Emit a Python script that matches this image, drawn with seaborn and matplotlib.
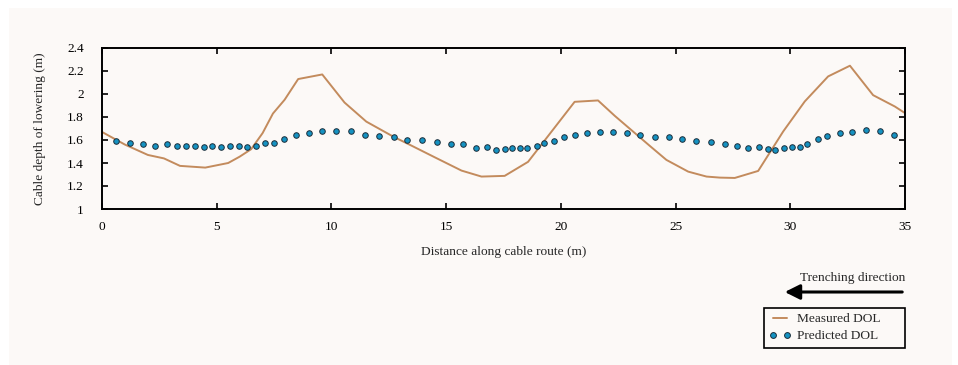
import matplotlib
matplotlib.use("Agg")
import matplotlib.pyplot as plt
import seaborn as sns
import pandas as pd
from matplotlib.patches import Rectangle, FancyArrowPatch
from matplotlib.lines import Line2D

# ---- data ----
measured_x = [0, 1, 2, 2.7, 3.4, 4.5, 5, 5.5, 6, 6.5, 7, 7.45, 7.96, 8.55, 9.6,
              10.57, 11.52, 12.69, 13.5, 14.5, 15.67, 16.54, 17.55, 18.57, 20.6,
              21.62, 22.35, 23.87, 24.6, 25.55, 26.35, 26.93, 27.58, 28.6, 29.69,
              30.63, 31.65, 32.6, 33.61, 34.56, 35]
measured_y = [1.67, 1.56, 1.47, 1.44, 1.375, 1.36, 1.38, 1.40, 1.455, 1.52, 1.66, 1.83,
              1.95, 2.13, 2.17, 1.926, 1.76, 1.63, 1.55, 1.45, 1.334, 1.282, 1.288,
              1.41, 1.932, 1.944, 1.81, 1.55, 1.427, 1.325, 1.282, 1.273, 1.27, 1.331,
              1.674, 1.935, 2.153, 2.246, 1.99, 1.891, 1.834]

predicted_x = [0.61, 1.24, 1.79, 2.33, 2.83, 3.29, 3.68, 4.07, 4.46, 4.81, 5.19, 5.58,
               5.96, 6.34, 6.70, 7.09, 7.51, 7.94, 8.44, 9.01, 9.59, 10.19, 10.84,
               11.48, 12.06, 12.72, 13.30, 13.95, 14.60, 15.23, 15.74, 16.29, 16.76,
               17.19, 17.55, 17.89, 18.21, 18.54, 18.94, 19.27, 19.69, 20.14, 20.61,
               21.12, 21.70, 22.28, 22.89, 23.44, 24.09, 24.70, 25.26, 25.91, 26.53,
               27.15, 27.66, 28.16, 28.63, 29.03, 29.35, 29.72, 30.08, 30.41, 30.75,
               31.19, 31.62, 32.16, 32.67, 33.29, 33.90, 34.51]
predicted_y = [1.587, 1.572, 1.566, 1.552, 1.561, 1.549, 1.552, 1.552, 1.540, 1.552,
               1.540, 1.546, 1.546, 1.540, 1.546, 1.572, 1.572, 1.607, 1.645, 1.665,
               1.680, 1.680, 1.674, 1.645, 1.634, 1.625, 1.601, 1.601, 1.581, 1.561,
               1.561, 1.529, 1.540, 1.514, 1.523, 1.529, 1.529, 1.529, 1.549, 1.572,
               1.587, 1.625, 1.645, 1.659, 1.671, 1.671, 1.659, 1.645, 1.625, 1.625,
               1.607, 1.593, 1.581, 1.566, 1.549, 1.529, 1.535, 1.523, 1.514, 1.529,
               1.535, 1.540, 1.566, 1.613, 1.639, 1.665, 1.671, 1.685, 1.680, 1.645]

x_ticks = [0, 5, 10, 15, 20, 25, 30, 35]
y_ticks = [1.0, 1.2, 1.4, 1.6, 1.8, 2.0, 2.2, 2.4]
y_tick_labels = ["1", "1.2", "1.4", "1.6", "1.8", "2", "2.2", "2.4"]

# ---- style ----
sns.set_theme(style="ticks")
plt.rcParams["font.family"] = ["Liberation Serif", "DejaVu Serif"]

BG = "#fcf9f7"
LINE_C = "#c38b5d"
DOT_C = "#1592c2"
DOT_E = "#1c2e3a"
FS = 9.6

W, H = 958, 365
fig = plt.figure(figsize=(W / 100, H / 100), dpi=100, facecolor="white")
fig.patches.append(Rectangle((9 / W, 0), (952 - 9) / W, 1 - 8 / H,
                             transform=fig.transFigure, facecolor=BG,
                             edgecolor="none", zorder=-10))

ax = fig.add_axes([102 / W, 1 - 209 / H, (905 - 102) / W, (209 - 48) / H])
ax.set_facecolor(BG)

df_m = pd.DataFrame({"x": measured_x, "y": measured_y})
df_p = pd.DataFrame({"x": predicted_x, "y": predicted_y})

sns.lineplot(data=df_m, x="x", y="y", ax=ax, color=LINE_C, linewidth=1.4,
             sort=False, estimator=None, zorder=2)
sns.scatterplot(data=df_p, x="x", y="y", ax=ax, color=DOT_C, edgecolor=DOT_E,
                linewidth=0.7, s=16, zorder=3)

ax.set_xlim(0, 35)
ax.set_ylim(1.0, 2.4)
ax.set_xticks(x_ticks)
ax.set_xticklabels([str(t) for t in x_ticks])
ax.set_yticks(y_ticks)
ax.set_yticklabels(y_tick_labels)
ax.tick_params(direction="in", length=4, width=1.2, top=True, right=True,
               labelsize=FS, colors="black")
ax.tick_params(axis="x", pad=9)
ax.tick_params(axis="y", pad=13)
for sp in ax.spines.values():
    sp.set_visible(True)
    sp.set_linewidth(1.4)
    sp.set_color("black")

ax.set_xlabel("Distance along cable route (m)", fontsize=FS, labelpad=9)
ax.set_ylabel("Cable depth of lowering (m)", fontsize=FS, labelpad=15)

# trenching direction arrow
fig.text(905 / W, 1 - 278 / H, "Trenching direction", ha="right", va="center",
         fontsize=FS)
arr = FancyArrowPatch((905 / W, 1 - 292 / H), (782 / W, 1 - 292 / H),
                      transform=fig.transFigure,
                      arrowstyle="-|>,head_length=9,head_width=4.5",
                      color="black", linewidth=2.2, mutation_scale=1)
fig.patches.append(arr)

handles = [Line2D([], [], color=LINE_C, linewidth=1.4),
           Line2D([], [], linestyle="none", marker="o", markersize=4.2,
                  markerfacecolor=DOT_C, markeredgecolor=DOT_E, markeredgewidth=0.7)]
leg = fig.legend(handles, ["Measured DOL", "Predicted DOL"],
                 loc="upper left", bbox_to_anchor=(764 / W, 1 - 308 / H, 141 / W, 0.001),
                 mode="expand",
                 borderaxespad=0, fontsize=FS, frameon=True, fancybox=False,
                 numpoints=2, handlelength=1.6, handletextpad=0.45,
                 borderpad=0.4, labelspacing=0.35)
leg.get_frame().set_edgecolor("black")
leg.get_frame().set_linewidth(1.2)
leg.get_frame().set_facecolor(BG)
leg.get_frame().set_alpha(1)

fig.savefig("out.png", dpi=100, facecolor="white")
